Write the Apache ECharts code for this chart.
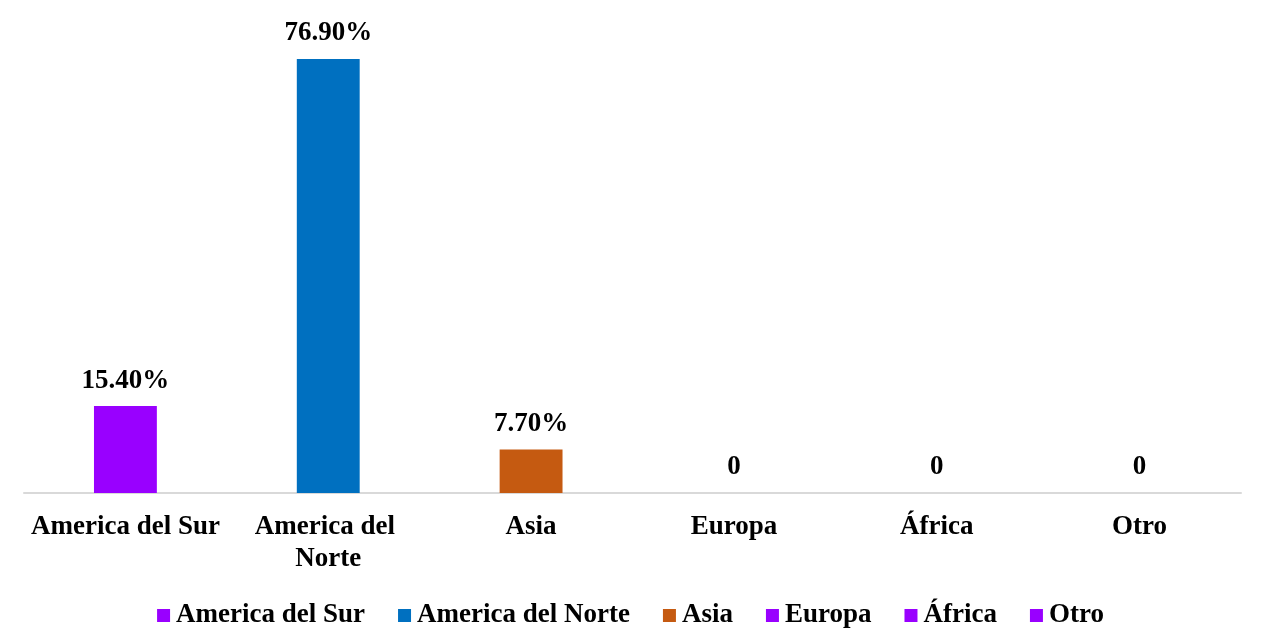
<!DOCTYPE html>
<html>
<head>
<meta charset="utf-8">
<script src="https://cdn.jsdelivr.net/npm/echarts@6/dist/echarts.min.js"></script>
<style>html,body{margin:0;padding:0;background:#fff}#c{width:1261px;height:639px}</style>
</head>
<body>
<div id="c"></div>
<script>
const categories = ['America del Sur', 'America del Norte', 'Asia', 'Europa', 'África', 'Otro'];
const values = [15.4, 76.9, 7.7, 0, 0, 0];
const colors = ['#9900FF', '#0070C0', '#C55A11', '#9900FF', '#9900FF', '#9900FF'];

const FONT = '"Liberation Serif", "Times New Roman", serif';
const series = categories.map((name, i) => ({
  name: name,
  type: 'bar',
  stack: 'total',
  barWidth: '31%',
  itemStyle: { color: colors[i] },
  data: categories.map((c, j) => (j === i ? values[i] : '-')),
  label: {
    show: true,
    position: 'top',
    distance: 12,
    fontFamily: FONT,
    fontWeight: 'bold',
    fontSize: 27,
    color: '#000',
    formatter: p => (p.value === 0 ? '0' : p.value.toFixed(2) + '%')
  }
}));

const chart = echarts.init(document.getElementById('c'));
chart.setOption({
  animation: false,
  grid: { left: 24, right: 20, top: 41.5, bottom: 146, containLabel: false },
  legend: {
    bottom: 5,
    left: 'center',
    icon: 'rect',
    itemWidth: 13,
    itemHeight: 13,
    itemGap: 33,
    textStyle: { fontFamily: FONT, fontWeight: 'bold', fontSize: 27, color: '#000', padding: [0, 0, 0, 1] },
    data: categories
  },
  xAxis: {
    type: 'category',
    data: categories,
    axisLine: { lineStyle: { color: '#D9D9D9', width: 2 } },
    axisTick: { show: false },
    axisLabel: {
      interval: 0,
      margin: 18,
      width: 200,
      overflow: 'break',
      lineHeight: 32,
      fontFamily: FONT,
      fontWeight: 'bold',
      fontSize: 27,
      color: '#000'
    }
  },
  yAxis: {
    type: 'value',
    min: 0,
    max: 80,
    show: false,
    splitLine: { show: false }
  },
  series: series
});
</script>
</body>
</html>
